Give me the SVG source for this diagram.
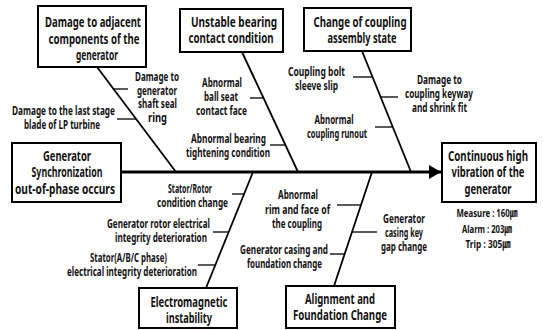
<svg xmlns="http://www.w3.org/2000/svg" width="543" height="330" viewBox="0 0 543 330">
<style>
rect{fill:#fff;stroke:#000;stroke-width:2}
text{font-family:"Noto Sans","Liberation Sans","Noto Sans CJK KR",sans-serif;font-weight:bold;text-anchor:middle;fill:#111}
.t{font-size:13.5px}
.l{font-size:11.5px}
.m{font-size:11px}
.bone{stroke:#000;stroke-width:1.8;fill:none}
.tick{stroke:#000;stroke-width:1.3;fill:none}
</style>
<defs>
<marker id="ah" markerWidth="12" markerHeight="14" refX="12" refY="7" orient="auto" markerUnits="userSpaceOnUse">
<path d="M0,0 L12,7 L0,14 Z" fill="#000"/>
</marker>
</defs>
<rect width="543" height="330" style="stroke:none;fill:#fff"/>
<g id="connectors">
<line x1="121" y1="172" x2="441" y2="172" stroke="#000" stroke-width="3" marker-end="url(#ah)"/>
<line class="bone" x1="97" y1="67" x2="176" y2="172"/>
<line class="bone" x1="242" y1="52" x2="298" y2="172"/>
<line class="bone" x1="362" y1="51" x2="411" y2="172"/>
<line class="bone" x1="253" y1="172" x2="206" y2="288"/>
<line class="bone" x1="372" y1="172" x2="334" y2="286"/>
<line class="tick" x1="114" y1="89" x2="128" y2="89"/>
<line class="tick" x1="117" y1="119" x2="136" y2="119"/>
<line class="tick" x1="250" y1="98" x2="264" y2="98"/>
<line class="tick" x1="270" y1="145" x2="286" y2="145"/>
<line class="tick" x1="353" y1="77" x2="372" y2="77"/>
<line class="tick" x1="380" y1="97" x2="398" y2="97"/>
<line class="tick" x1="375" y1="127" x2="392" y2="127"/>
<line class="tick" x1="232" y1="194" x2="245" y2="194"/>
<line class="tick" x1="213" y1="232" x2="229" y2="232"/>
<line class="tick" x1="198" y1="265" x2="215" y2="265"/>
<line class="tick" x1="337" y1="205" x2="361" y2="205"/>
<line class="tick" x1="352" y1="232" x2="377" y2="232"/>
<line class="tick" x1="330" y1="254" x2="345" y2="254"/>
</g>
<g id="n-adjacent">
<rect x="38" y="6" width="108" height="61"/>
<text class="t" x="93" y="27" textLength="96" lengthAdjust="spacingAndGlyphs">Damage to adjacent</text>
<text class="t" x="94" y="44" textLength="91" lengthAdjust="spacingAndGlyphs">components of the</text>
<text class="t" x="97" y="60" textLength="42" lengthAdjust="spacingAndGlyphs">generator</text>
</g>
<g id="n-bearing">
<rect x="180" y="9" width="103" height="43"/>
<text class="t" x="234" y="27" textLength="86" lengthAdjust="spacingAndGlyphs">Unstable bearing</text>
<text class="t" x="231" y="43" textLength="85" lengthAdjust="spacingAndGlyphs">contact condition</text>
</g>
<g id="n-coupling">
<rect x="304" y="8" width="107" height="43"/>
<text class="t" x="360" y="27" textLength="93" lengthAdjust="spacingAndGlyphs">Change of coupling</text>
<text class="t" x="362" y="43" textLength="69" lengthAdjust="spacingAndGlyphs">assembly state</text>
</g>
<g id="n-sync">
<rect x="12" y="143" width="109" height="59"/>
<text class="t" x="67" y="161" textLength="48" lengthAdjust="spacingAndGlyphs">Generator</text>
<text class="t" x="67" y="177" textLength="71" lengthAdjust="spacingAndGlyphs">Synchronization</text>
<text class="t" x="65" y="194" textLength="100" lengthAdjust="spacingAndGlyphs">out-of-phase occurs</text>
</g>
<g id="n-electro">
<rect x="139" y="288" width="98" height="40"/>
<text class="t" x="189" y="307" textLength="77" lengthAdjust="spacingAndGlyphs">Electromagnetic</text>
<text class="t" x="189" y="323" textLength="46" lengthAdjust="spacingAndGlyphs">instability</text>
</g>
<g id="n-align">
<rect x="286" y="286" width="109" height="42"/>
<text class="t" x="340" y="304" textLength="70" lengthAdjust="spacingAndGlyphs">Alignment and</text>
<text class="t" x="340" y="320" textLength="94" lengthAdjust="spacingAndGlyphs">Foundation Change</text>
</g>
<g id="n-effect">
<rect x="442" y="143" width="94" height="59"/>
<text class="t" x="488" y="161" textLength="80" lengthAdjust="spacingAndGlyphs">Continuous high</text>
<text class="t" x="488" y="177" textLength="73" lengthAdjust="spacingAndGlyphs">vibration of the</text>
<text class="t" x="488" y="194" textLength="47" lengthAdjust="spacingAndGlyphs">generator</text>
<text class="m" x="487" y="217" textLength="61" lengthAdjust="spacingAndGlyphs">Measure : 160㎛</text>
<text class="m" x="487" y="233" textLength="50" lengthAdjust="spacingAndGlyphs">Alarm : 203㎛</text>
<text class="m" x="488" y="248" textLength="45" lengthAdjust="spacingAndGlyphs">Trip : 305㎛</text>
</g>
<g id="labels">
<text class="l" x="63.5" y="115" textLength="103" lengthAdjust="spacingAndGlyphs">Damage to the last stage</text>
<text class="l" x="62" y="129" textLength="76" lengthAdjust="spacingAndGlyphs">blade of LP turbine</text>
<text class="l" x="157" y="81" textLength="44" lengthAdjust="spacingAndGlyphs">Damage to</text>
<text class="l" x="157" y="95" textLength="40" lengthAdjust="spacingAndGlyphs">generator</text>
<text class="l" x="157.5" y="108" textLength="39" lengthAdjust="spacingAndGlyphs">shaft seal</text>
<text class="l" x="157.5" y="122" textLength="19" lengthAdjust="spacingAndGlyphs">ring</text>
<text class="l" x="222" y="87" textLength="40" lengthAdjust="spacingAndGlyphs">Abnormal</text>
<text class="l" x="221" y="101" textLength="34" lengthAdjust="spacingAndGlyphs">ball seat</text>
<text class="l" x="221.5" y="115" textLength="51" lengthAdjust="spacingAndGlyphs">contact face</text>
<text class="l" x="228.5" y="143" textLength="75" lengthAdjust="spacingAndGlyphs">Abnormal bearing</text>
<text class="l" x="228" y="157" textLength="84" lengthAdjust="spacingAndGlyphs">tightening condition</text>
<text class="l" x="316.5" y="76" textLength="57" lengthAdjust="spacingAndGlyphs">Coupling bolt</text>
<text class="l" x="316.5" y="90" textLength="43" lengthAdjust="spacingAndGlyphs">sleeve slip</text>
<text class="l" x="439.5" y="84" textLength="45" lengthAdjust="spacingAndGlyphs">Damage to</text>
<text class="l" x="439" y="98" textLength="68" lengthAdjust="spacingAndGlyphs">coupling keyway</text>
<text class="l" x="439.5" y="112" textLength="55" lengthAdjust="spacingAndGlyphs">and shrink fit</text>
<text class="l" x="334" y="124" textLength="39" lengthAdjust="spacingAndGlyphs">Abnormal</text>
<text class="l" x="337" y="138" textLength="60" lengthAdjust="spacingAndGlyphs">coupling runout</text>
<text class="l" x="190" y="193" textLength="44" lengthAdjust="spacingAndGlyphs">Stator/Rotor</text>
<text class="l" x="192.5" y="207" textLength="71" lengthAdjust="spacingAndGlyphs">condition change</text>
<text class="l" x="158.5" y="228" textLength="103" lengthAdjust="spacingAndGlyphs">Generator rotor electrical</text>
<text class="l" x="161" y="242" textLength="92" lengthAdjust="spacingAndGlyphs">integrity deterioration</text>
<text class="l" x="128.5" y="262" textLength="77" lengthAdjust="spacingAndGlyphs">Stator(A/B/C phase)</text>
<text class="l" x="132" y="276" textLength="130" lengthAdjust="spacingAndGlyphs">electrical integrity deterioration</text>
<text class="l" x="298" y="199" textLength="40" lengthAdjust="spacingAndGlyphs">Abnormal</text>
<text class="l" x="297.5" y="213.5" textLength="65" lengthAdjust="spacingAndGlyphs">rim and face of</text>
<text class="l" x="297" y="228" textLength="50" lengthAdjust="spacingAndGlyphs">the coupling</text>
<text class="l" x="284" y="254" textLength="88" lengthAdjust="spacingAndGlyphs">Generator casing and</text>
<text class="l" x="284.5" y="268" textLength="75" lengthAdjust="spacingAndGlyphs">foundation change</text>
<text class="l" x="404" y="223" textLength="42" lengthAdjust="spacingAndGlyphs">Generator</text>
<text class="l" x="404" y="237" textLength="38" lengthAdjust="spacingAndGlyphs">casing key</text>
<text class="l" x="404" y="251" textLength="46" lengthAdjust="spacingAndGlyphs">gap change</text>
</g>
</svg>
